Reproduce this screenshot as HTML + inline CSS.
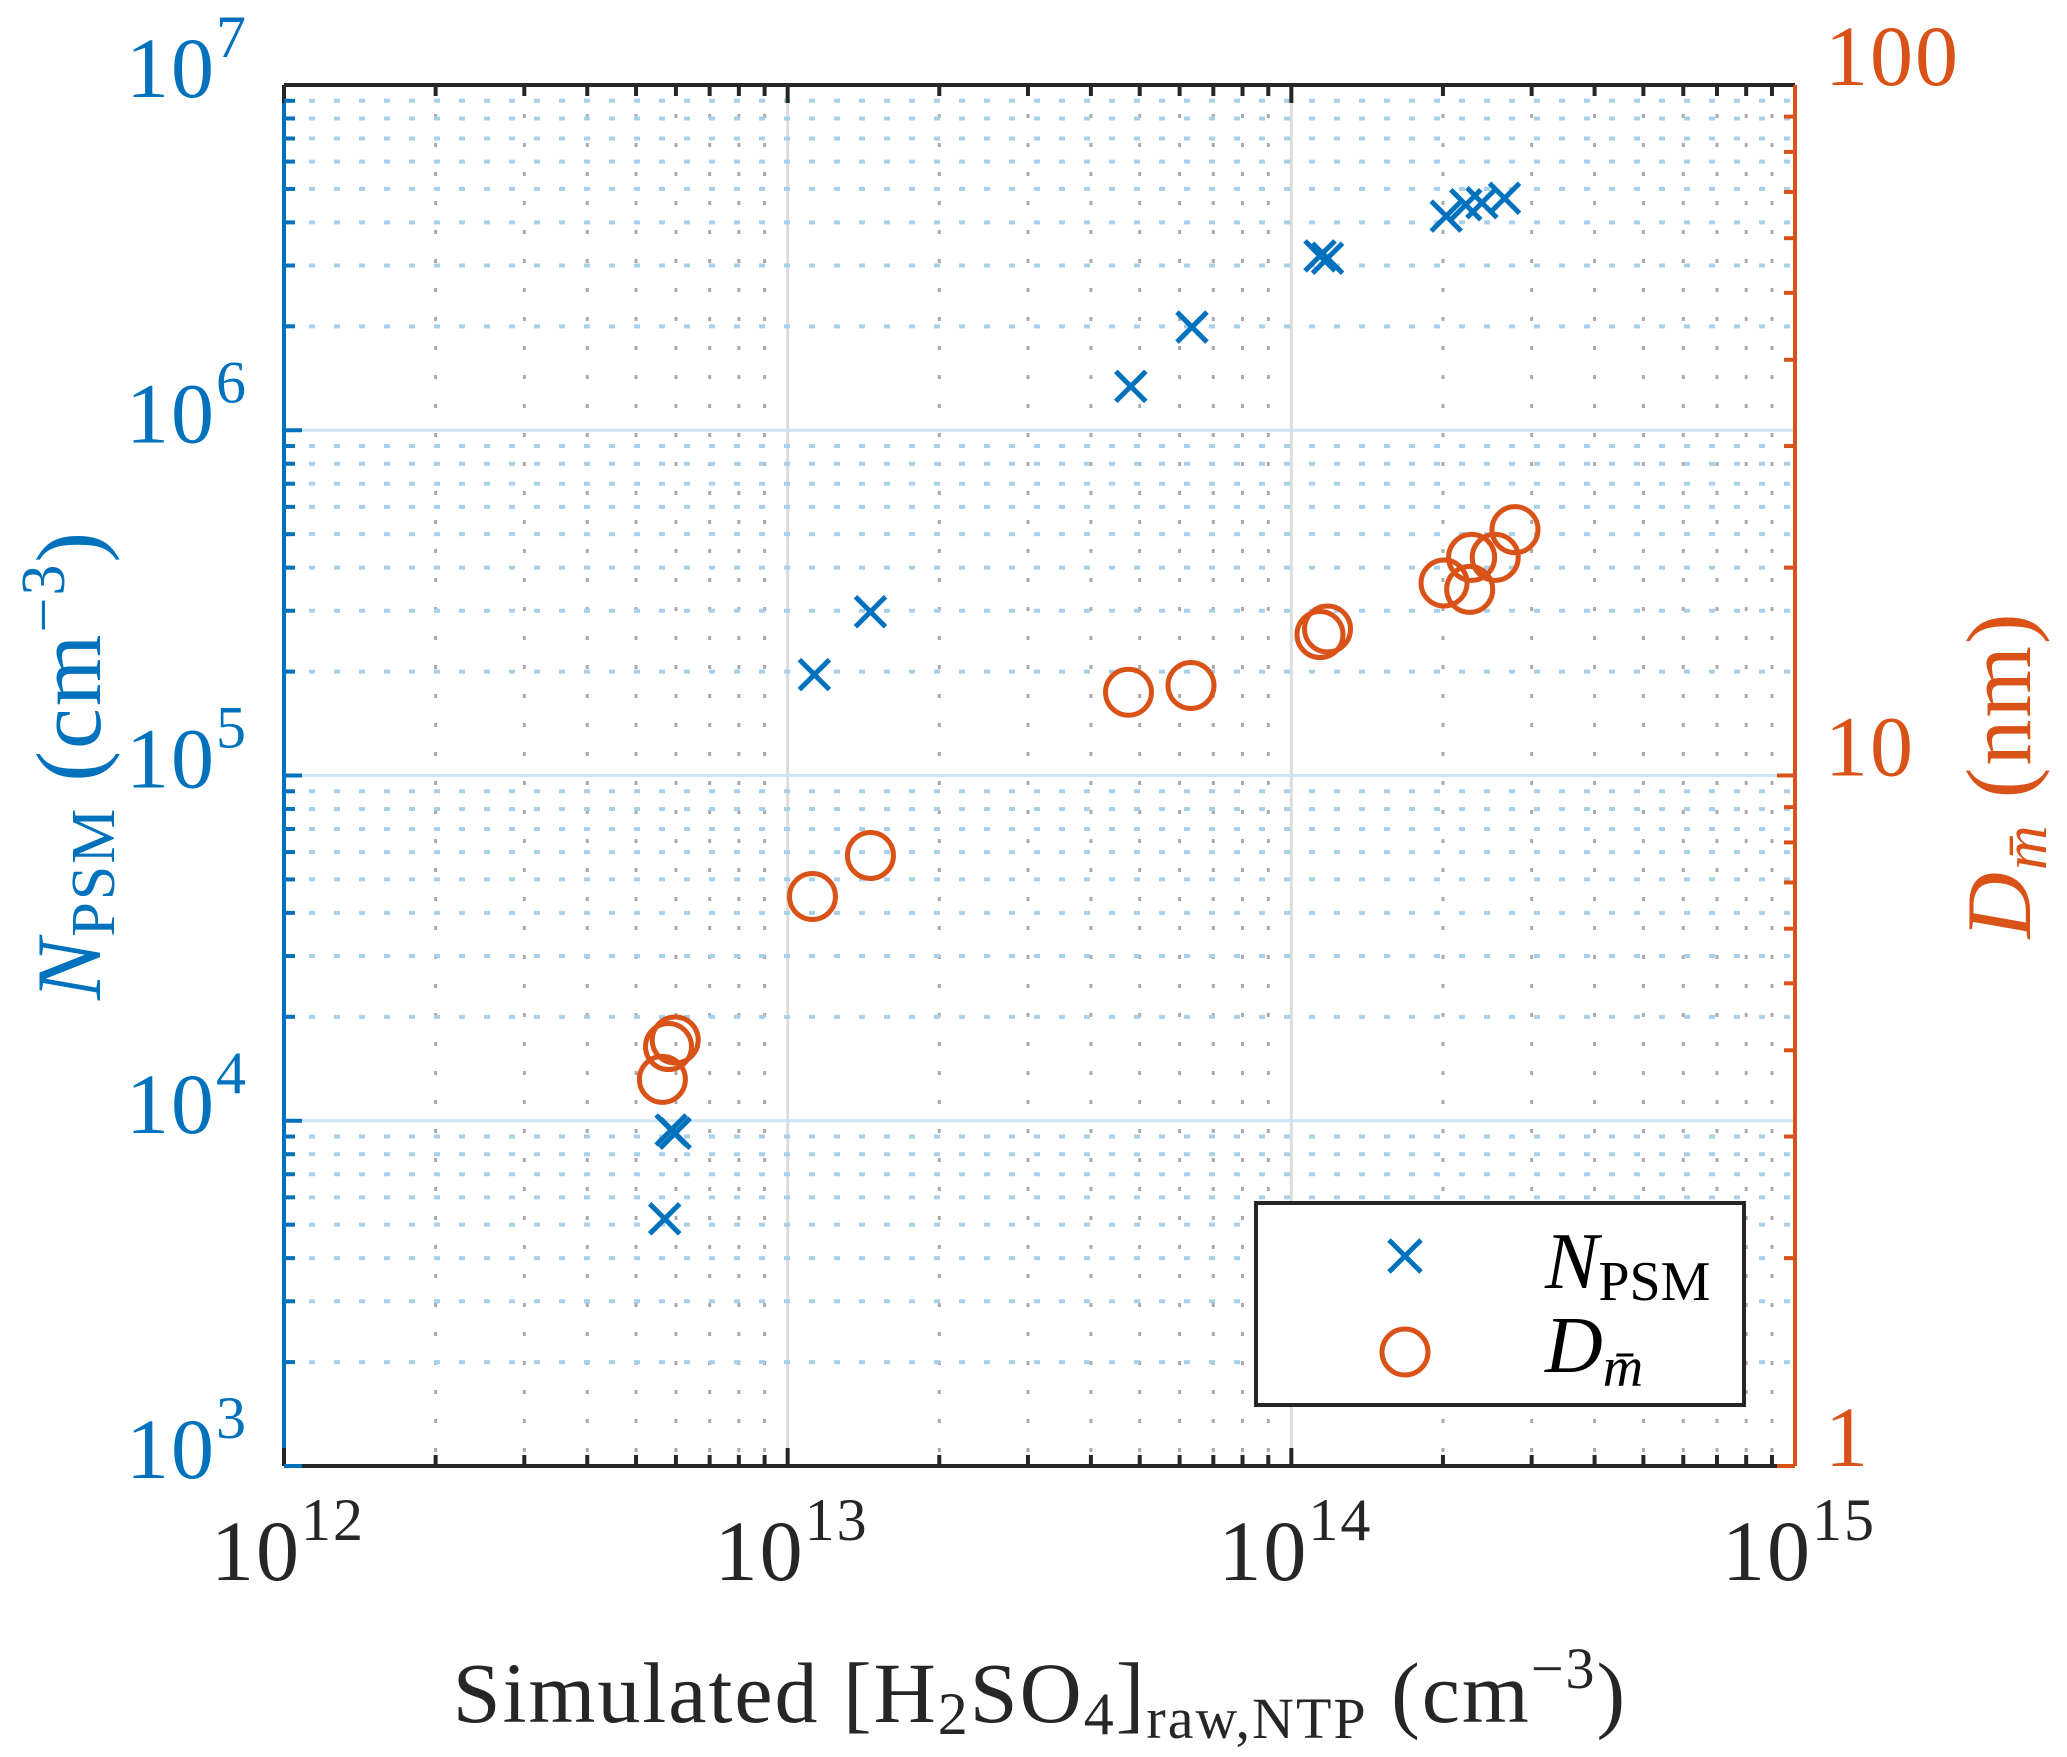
<!DOCTYPE html>
<html><head><meta charset="utf-8">
<style>
html,body{margin:0;padding:0;background:#fff;}
svg{display:block;}
text{font-family:"Liberation Serif",serif;}
</style></head>
<body>
<svg id="chart" width="2067" height="1757" viewBox="0 0 2067 1757" xmlns="http://www.w3.org/2000/svg">
<g id="grid"></g>
<g id="axes"></g>
<g id="marks"></g>
<text x="1040" y="1722" font-size="86" text-anchor="middle" fill="#262626" letter-spacing="2">Simulated [H<tspan font-size="60" dy="12">2</tspan><tspan dy="-12">SO</tspan><tspan font-size="60" dy="12">4</tspan><tspan dy="-12">]</tspan><tspan font-size="58" dy="16">raw,NTP</tspan><tspan dy="-16"> (cm</tspan><tspan font-size="58" dy="-34">−3</tspan><tspan dy="34">)</tspan></text>
<text transform="translate(100,765) rotate(-90)" font-size="92" text-anchor="middle" fill="#0072BD" letter-spacing="2"><tspan font-style="italic">N</tspan><tspan font-size="62" dy="14">PSM</tspan><tspan dy="-14"> (cm</tspan><tspan font-size="62" dy="-36">−3</tspan><tspan dy="36">)</tspan></text>
<text transform="translate(2030,775) rotate(-90)" font-size="92" text-anchor="middle" fill="#D95319" letter-spacing="2"><tspan font-style="italic">D</tspan><tspan font-size="62" font-style="italic" dy="16">m̄</tspan><tspan dy="-16"> (nm)</tspan></text>
<g>
<rect x="1256" y="1203" width="488" height="202" fill="#fff" stroke="#262626" stroke-width="4"/>
<g stroke="#0072BD" stroke-width="5"><line x1="1389" y1="1240" x2="1421" y2="1272"/><line x1="1389" y1="1272" x2="1421" y2="1240"/></g>
<text x="1545" y="1288" font-size="80" fill="#000"><tspan font-style="italic">N</tspan><tspan font-size="56" dy="12">PSM</tspan></text>
<circle cx="1405" cy="1352" r="23" fill="none" stroke="#D95319" stroke-width="5"/>
<text x="1545" y="1372" font-size="80" fill="#000"><tspan font-style="italic">D</tspan><tspan font-size="56" font-style="italic" dy="14">m̄</tspan></text>
</g>
</svg>
<script>
const xTickExps = [12, 13, 14, 15];
const yLeftTickExps = [3, 4, 5, 6, 7];
const yRightTickLabels = ["1", "10", "100"];
const nX = [5.7e12, 5.87e12, 5.98e12, 1.13e13, 1.46e13, 4.8e13, 6.35e13, 1.14e14, 1.18e14, 2.03e14, 2.22e14, 2.39e14, 2.65e14];
const nY = [5.2e3, 9.4e3, 9.2e3, 1.96e5, 2.98e5, 1.34e6, 1.99e6, 3.2e6, 3.15e6, 4.17e6, 4.5e6, 4.56e6, 4.7e6];
const dX = [5.64e12, 5.8e12, 5.98e12, 1.12e13, 1.46e13, 4.75e13, 6.32e13, 1.14e14, 1.18e14, 2.01e14, 2.26e14, 2.28e14, 2.54e14, 2.78e14];
const dY = [3.63, 4.05, 4.14, 6.68, 7.66, 13.2, 13.5, 16.0, 16.3, 19.0, 18.6, 20.7, 20.7, 22.7];

const L = 284, R = 1795, T = 85, B = 1466;
const NS = "http://www.w3.org/2000/svg";
function xs(v){ return L + (Math.log10(v) - 12) / 3 * (R - L); }
function yl(v){ return B - (Math.log10(v) - 3) / 4 * (B - T); }
function yr(v){ return B - Math.log10(v) / 2 * (B - T); }
function mk(tag, attrs, parent){
  const e = document.createElementNS(NS, tag);
  for (const k in attrs) e.setAttribute(k, attrs[k]);
  parent.appendChild(e); return e;
}
const grid = document.getElementById('grid');
const axes = document.getElementById('axes');
const marks = document.getElementById('marks');

for (let e = 12; e < 15; e++) {
  for (let m = 1; m <= 9; m++) {
    const x = xs(m * Math.pow(10, e));
    if (m === 1) {
      if (e === 12) continue;
      const g = mk('line', {x1:x, y1:T, x2:x, y2:B, stroke:'#dcdcdc', 'stroke-width':3}, grid);
      
      
    } else {
      const g = mk('line', {x1:x, y1:T, x2:x, y2:B, stroke:'#aaaaaa', 'stroke-width':3, 'stroke-dasharray':'4 25'}, grid);
      
      
    }
  }
}
for (let e = 3; e < 7; e++) {
  for (let m = 1; m <= 9; m++) {
    const y = yl(m * Math.pow(10, e));
    if (m === 1) {
      if (e === 3) continue;
      const g = mk('line', {x1:L, y1:y, x2:R, y2:y, stroke:'#cfe3f3', 'stroke-width':3}, grid);
      
      
    } else {
      const g = mk('line', {x1:L, y1:y, x2:R, y2:y, stroke:'#a9d0ea', 'stroke-width':4, 'stroke-dasharray':'6 19'}, grid);
      
      
    }
  }
}
let a;
a = mk('line', {x1:L, y1:T, x2:R, y2:T, stroke:'#262626', 'stroke-width':4}, axes);
 
a = mk('line', {x1:L, y1:B, x2:R, y2:B, stroke:'#262626', 'stroke-width':4}, axes);
 
a = mk('line', {x1:L, y1:T, x2:L, y2:B, stroke:'#0072BD', 'stroke-width':4}, axes);
 
a = mk('line', {x1:R, y1:T, x2:R, y2:B, stroke:'#D95319', 'stroke-width':4}, axes);
 

for (let e = 12; e < 15; e++) {
  for (let m = 1; m <= 9; m++) {
    const x = xs(m * Math.pow(10, e));
    const len = m === 1 ? 18 : 11;
    const t1 = mk('line', {x1:x, y1:B, x2:x, y2:B - len, stroke:'#262626', 'stroke-width':4}, axes);
     
    const t2 = mk('line', {x1:x, y1:T, x2:x, y2:T + len, stroke:'#262626', 'stroke-width':4}, axes);
     
  }
}
xTickExps.forEach(e => {
  const x = xs(Math.pow(10, e));
  const t = mk('text', {x:x + 4, y:1580, 'font-size':86, 'text-anchor':'middle', fill:'#262626', 'letter-spacing':2}, axes);
   
  t.innerHTML = '10<tspan font-size="60" dy="-40">' + e + '</tspan>';
});
for (let e = 3; e < 7; e++) {
  for (let m = 1; m <= 9; m++) {
    const y = yl(m * Math.pow(10, e));
    const len = m === 1 ? 18 : 11;
    const t = mk('line', {x1:L, y1:y, x2:L + len, y2:y, stroke:'#0072BD', 'stroke-width':4}, axes);
     
  }
}
yLeftTickExps.forEach(e => {
  const y = yl(Math.pow(10, e));
  const t = mk('text', {x:248, y:y + 12, 'font-size':86, 'text-anchor':'end', fill:'#0072BD', 'letter-spacing':2}, axes);
   
  t.innerHTML = '10<tspan font-size="60" dy="-40">' + e + '</tspan>';
});
for (let e = 0; e < 2; e++) {
  for (let m = 1; m <= 9; m++) {
    const y = yr(m * Math.pow(10, e));
    const len = m === 1 ? 18 : 11;
    const t = mk('line', {x1:R, y1:y, x2:R - len, y2:y, stroke:'#D95319', 'stroke-width':4}, axes);
     
  }
}
yRightTickLabels.forEach((lab, i) => {
  const y = yr(Math.pow(10, i));
  const t = mk('text', {x:1825, y:y, 'font-size':86, fill:'#D95319', 'letter-spacing':2}, axes);
   
  t.textContent = lab;
});
nX.forEach((v, i) => {
  const cx = xs(v), cy = yl(nY[i]), s = 15;
  const g = mk('g', {stroke:'#0072BD', 'stroke-width':5}, marks);
   
  mk('line', {x1:cx - s, y1:cy - s, x2:cx + s, y2:cy + s}, g);
  mk('line', {x1:cx - s, y1:cy + s, x2:cx + s, y2:cy - s}, g);
});
dX.forEach((v, i) => {
  const c = mk('circle', {cx:xs(v), cy:yr(dY[i]), r:23, fill:'none', stroke:'#D95319', 'stroke-width':5}, marks);
   
});
</script>
</body></html>
